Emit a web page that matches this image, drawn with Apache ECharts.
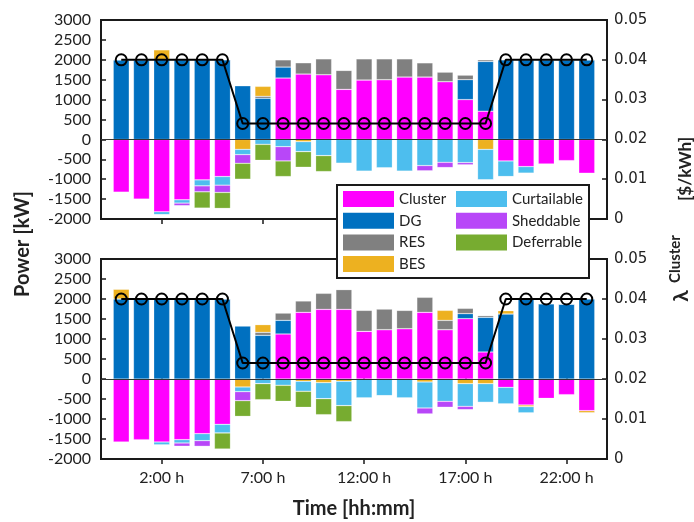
<!DOCTYPE html>
<html><head><meta charset="utf-8">
<script src="https://cdn.jsdelivr.net/npm/echarts@6/dist/echarts.min.js"></script>
<style>html,body{margin:0;padding:0;background:#fff}#c{width:694px;height:522px}</style>
</head><body><div id="c"></div>
<script>
// ---------- data ----------
const hours = [0,1,2,3,4,5,6,7,8,9,10,11,12,13,14,15,16,17,18,19,20,21,22,23];
const tickHours = [2,7,12,17,22];
const tickLabels = ['2:00 h','7:00 h','12:00 h','17:00 h','22:00 h'];
const priceTickLabels = ['0','0.01','0.02','0.03','0.04','0.05'];

// top subplot
const clusterA     = [-1325,-1500,-1817,-1517,-1017,-933,0,0,1542,1642,1625,1258,1492,1500,1567,1567,1450,1000,708,-542,-683,-617,-533,-850];
const dgA          = [2000,2000,2000,2000,2000,2000,1350,1033,275,0,0,0,0,0,0,0,0,500,1250,2000,2000,2000,2000,2000];
const resA         = [0,0,0,0,0,0,0,50,183,283,400,475,533,525,458,358,242,117,42,0,0,0,0,0];
const besA         = [0,0,250,0,25,0,-250,250,0,-58,0,0,0,0,0,0,0,0,-250,0,0,0,0,0];
const curtailableA = [0,0,-75,-83,-150,-217,-133,-125,-183,-250,-408,-600,-800,-717,-800,-658,-575,-583,-767,-392,-167,0,0,0];
const sheddableA   = [0,0,0,-67,-150,-183,-217,0,-358,0,0,0,0,0,0,-133,-133,-58,0,0,0,0,0,0];
const deferrableA  = [0,0,0,0,-408,-400,-400,-400,-392,-392,-400,0,0,0,0,0,0,0,0,0,0,0,0,0];
const priceA       = [0.04,0.04,0.04,0.04,0.04,0.04,0.024,0.024,0.024,0.024,0.024,0.024,0.024,0.024,0.024,0.024,0.024,0.024,0.024,0.04,0.04,0.04,0.04,0.04];

// bottom subplot
const clusterB     = [-1575,-1517,-1575,-1517,-1367,-1133,0,0,1125,1667,1742,1742,1192,1233,1258,1667,1233,1508,675,-208,-650,-483,-392,-792];
const dgB          = [2000,2000,2000,2000,2000,2000,1325,1092,342,0,0,0,0,0,0,0,0,125,867,1625,2000,1883,1875,2000];
const resB         = [0,0,0,0,0,0,0,75,183,283,400,492,525,517,458,375,233,133,42,0,0,0,0,0];
const besB         = [250,0,0,0,0,0,-200,192,0,-58,-92,-58,0,0,0,-75,250,-117,-117,83,-42,0,0,-58];
const curtailableB = [0,0,-75,-83,-175,-217,-117,-117,-158,-250,-400,-608,-475,-417,-475,-650,-558,-567,-467,-417,-158,0,0,0];
const sheddableB   = [0,0,0,-83,-142,0,-225,0,0,0,0,0,0,0,0,-150,-150,-83,0,0,0,0,0,0];
const deferrableB  = [0,0,0,0,0,-400,-392,-400,-400,-400,-400,-400,0,0,0,0,0,0,0,0,0,0,0,0];
const priceB       = [0.04,0.04,0.04,0.04,0.04,0.04,0.024,0.024,0.024,0.024,0.024,0.024,0.024,0.024,0.024,0.024,0.024,0.024,0.024,0.04,0.04,0.04,0.04,0.04];

const seriesNames = ['Cluster','DG','RES','BES','Curtailable','Sheddable','Deferrable'];
const colors = {Cluster:'#FF00FF', DG:'#0070C0', RES:'#808080', BES:'#EDB120', Curtailable:'#4DBEEE', Sheddable:'#B847F8', Deferrable:'#77AC30'};

// ---------- build ----------
const FONT = 'Lato';
const INK = '#1a1a1a';
// axis categories: one empty slot before hour 0 and after hour 23 (x range -1 .. 24)
const axisCats = ['pre'].concat(hours.map(String), ['post']);

function bars(name, vals, gi) {
  const s = {
    type:'bar', name, xAxisIndex: gi*2, yAxisIndex: gi*2, stack:'s'+gi, stackStrategy:'samesign', barWidth:16,
    data: hours.map((h,i)=>[String(h), vals[i]]),
    itemStyle:{color: colors[name], borderColor:'rgba(255,255,255,0.35)', borderWidth:0.6}, z:2
  };
  if (name === 'Cluster') {
    s.markLine = {silent:true, symbol:'none', label:{show:false}, animation:false,
      lineStyle:{color:'#333', width:1, type:'solid'}, data:[{yAxis:0}]};
  }
  return s;
}
function priceLine(vals, gi) {
  return {type:'line', xAxisIndex: gi*2, yAxisIndex: gi*2+1,
    data: hours.map((h,i)=>[String(h), vals[i]]), symbol:'circle', symbolSize:11,
    itemStyle:{color:'rgba(0,0,0,0)', borderColor:'#000', borderWidth:2},
    lineStyle:{color:'#000', width:2}, z:5};
}
const isTick = (idx, val) => tickHours.indexOf(Number(val)) >= 0;
function xAx(gi, pos, showLabel) {
  return {type:'category', data:axisCats, boundaryGap:false, gridIndex:gi, position:pos,
    splitLine:{show:false}, axisLine:{show:false},
    axisTick:{show:true, inside:true, length:5, interval:isTick, lineStyle:{color:INK, width:1.5}},
    axisLabel:{show:showLabel, interval:isTick, formatter:v=>tickLabels[tickHours.indexOf(Number(v))] || '',
      margin:11, fontFamily:FONT, fontSize:16, color:'#222'}};
}
function yLeft(gi) {
  return {type:'value', gridIndex:gi, position:'left', min:-2000, max:3000, interval:500,
    splitLine:{show:false}, axisLine:{show:false},
    axisTick:{show:true, inside:true, length:5, lineStyle:{color:INK, width:1.5}},
    axisLabel:{fontFamily:FONT, fontSize:16, color:'#222', margin:10, formatter:v=>String(v)}};
}
function yRight(gi) {
  return {type:'value', gridIndex:gi, position:'right', min:0, max:0.05, interval:0.01,
    splitLine:{show:false}, axisLine:{show:false},
    axisTick:{show:true, inside:true, length:5, lineStyle:{color:INK, width:1.5}},
    axisLabel:{fontFamily:'DejaVu Sans', fontSize:15, color:'#222', margin:7,
      formatter:v=>priceTickLabels[Math.round(v*100)]}};
}

const series = [];
const setA = {Cluster:clusterA, DG:dgA, RES:resA, BES:besA, Curtailable:curtailableA, Sheddable:sheddableA, Deferrable:deferrableA};
const setB = {Cluster:clusterB, DG:dgB, RES:resB, BES:besB, Curtailable:curtailableB, Sheddable:sheddableB, Deferrable:deferrableB};
seriesNames.forEach(n=>series.push(bars(n, setA[n], 0)));
seriesNames.forEach(n=>series.push(bars(n, setB[n], 1)));
series.push(priceLine(priceA, 0));
series.push(priceLine(priceB, 1));

const legendBase = {orient:'vertical', itemWidth:51, itemHeight:16, itemGap:5.7, icon:'rect',
  padding:0, selectedMode:false, z:20, itemStyle:{borderWidth:0},
  textStyle:{fontFamily:FONT, fontSize:15, color:'#222', lineHeight:16}};

function vtext(x, y, text, size) {
  return {type:'text', x, y, rotation:Math.PI/2, z:30,
    style:{text, font:'bold '+size+'px '+FONT, fill:'#222', align:'center', verticalAlign:'middle',
      textAlign:'center', textVerticalAlign:'middle'}};
}

const option = {
  animation:false,
  backgroundColor:'#fff',
  grid:[
    {left:101, right:87, top:20, height:199, show:true, borderColor:INK, borderWidth:2},
    {left:101, right:87, top:259, height:200, show:true, borderColor:INK, borderWidth:2}
  ],
  xAxis:[xAx(0,'bottom',false), xAx(0,'top',false), xAx(1,'bottom',true), xAx(1,'top',false)],
  yAxis:[yLeft(0), yRight(0), yLeft(1), yRight(1)],
  legend:[
    Object.assign({}, legendBase, {data:['Cluster','DG','RES','BES'], left:343, top:191}),
    Object.assign({}, legendBase, {data:['Curtailable','Sheddable','Deferrable'], left:456, top:191})
  ],
  graphic:[
    {type:'rect', z:10, shape:{x:337, y:185, width:252, height:93}, style:{fill:'#fff', stroke:INK, lineWidth:2}},
    vtext(23, 244, 'Power [kW]', 20),
    vtext(681, 296, 'λ', 21),
    vtext(675, 259, 'Cluster', 15),
    vtext(686, 169, '[$/kWh]', 17),
    {type:'text', x:354, y:509, z:30,
      style:{text:'Time [hh:mm]', font:'bold 20px '+FONT, fill:'#222', align:'center', verticalAlign:'middle',
        textAlign:'center', textVerticalAlign:'middle'}}
  ],
  series
};
echarts.init(document.getElementById('c')).setOption(option);
</script>
</body></html>
